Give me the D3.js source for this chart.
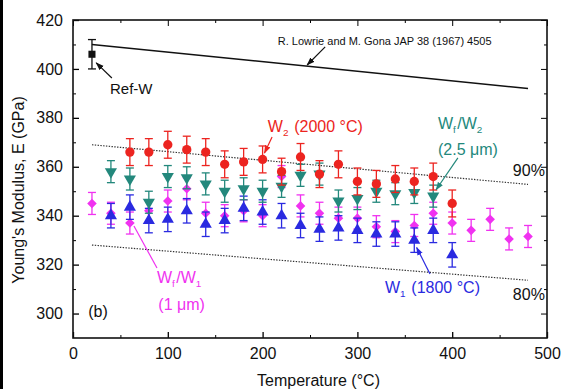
<!DOCTYPE html>
<html>
<head>
<meta charset="utf-8">
<script src="https://cdn.jsdelivr.net/npm/d3@7"></script>
<style>
body { margin: 0; background: #fff; }
text { font-family: "Liberation Sans", Arial, sans-serif; }
</style>
</head>
<body>
<div id="chart"></div>
<script>
// values (GPa vs degC)
const w2Temps = [60, 80, 100, 120, 140, 160, 180, 200, 220, 240, 260, 280, 300, 320, 340, 360, 380, 400];
const w2Values = [366, 366, 369, 367, 366, 361, 362, 363, 358, 364, 357, 361, 354, 353, 355, 354, 356, 345];

const wfw2Temps = [40, 60, 80, 100, 120, 140, 160, 180, 200, 220, 240, 260, 280, 300, 320, 340, 360, 380];
const wfw2Values = [358, 355, 345.5, 356, 355.5, 353, 350, 351, 350, 352, 356.5, 357, 346, 347, 350, 349, 349.5, 348];

const wfw1Temps = [20, 40, 60, 80, 100, 120, 140, 160, 180, 200, 220, 240, 260, 280, 300, 320, 340, 360, 380, 400, 420, 440, 460, 480];
const wfw1Values = [345, 341, 337, 342, 346, 351, 341, 340, 342, 340, 356, 344, 341, 339, 339, 335.5, 333.5, 336, 341, 337, 334, 338.5, 330.5, 331.5];

const w1Temps = [40, 60, 80, 100, 120, 140, 160, 180, 200, 220, 240, 260, 280, 300, 320, 340, 360, 380, 400];
const w1Values = [340, 343.5, 338, 338.5, 342, 336.5, 338, 343, 341.5, 340, 336, 334.5, 335, 334, 332.5, 332.5, 330, 334, 324];

const errW2 = 5.5, errWfW2 = 4.5, errWfW1 = 4.5, errW1 = 5;

const refTemps = [20];
const refValues = [406];
const refErr = 6;

// Lowrie & Gona line and its 90% / 80% lines (end points)
const lowrieTemps = [20, 480];
const lowrieValues = [410, 392];
const pct90Values = [369, 352.8];
const pct80Values = [328, 313.6];

const xTicks = [0, 100, 200, 300, 400, 500];
const yTicks = [300, 320, 340, 360, 380, 400, 420];

const W = 568, H = 389;
const margin = { top: 20, right: 21, bottom: 51, left: 73 };
const width = W - margin.left - margin.right;
const height = H - margin.top - margin.bottom;

const svg = d3.select("#chart").append("svg")
    .attr("width", W)
    .attr("height", H);

// outer frame line on the left edge of the picture
svg.append("line")
    .attr("x1", 1.5).attr("x2", 1.5).attr("y1", 0).attr("y2", H)
    .attr("stroke", "#000").attr("stroke-width", 3);

const g = svg.append("g")
    .attr("transform", `translate(${margin.left},${margin.top})`);

const x = d3.scaleLinear().domain([0, 500]).range([0, width]);
const y = d3.scaleLinear().domain([290, 420]).range([height, 0]);

// axes, ticks inward
const xMinor = d3.range(50, 500, 100);
const yMinor = d3.range(310, 420, 20);

g.append("g")
    .attr("transform", `translate(0,${height})`)
    .call(d3.axisBottom(x).tickValues(xTicks).tickSize(-6).tickPadding(10).tickFormat(d3.format("d")))
    .call(a => a.select(".domain").remove())
    .call(a => a.selectAll("text").attr("font-size", 16).attr("fill", "#111").attr("dy", "0.71em"))
    .call(a => a.selectAll(".tick line").attr("stroke-width", 1.3));
g.append("g")
    .attr("transform", `translate(0,${height})`)
    .call(d3.axisBottom(x).tickValues(xMinor).tickSize(-3).tickFormat(""))
    .call(a => a.select(".domain").remove());
g.append("g")
    .call(d3.axisTop(x).tickValues(xTicks).tickSize(-6).tickFormat(""))
    .call(a => a.select(".domain").remove());
g.append("g")
    .call(d3.axisTop(x).tickValues(xMinor).tickSize(-3).tickFormat(""))
    .call(a => a.select(".domain").remove());

g.append("g")
    .call(d3.axisLeft(y).tickValues(yTicks).tickSize(-6).tickPadding(10))
    .call(a => a.select(".domain").remove())
    .call(a => a.selectAll("text").attr("font-size", 16).attr("fill", "#111"))
    .call(a => a.selectAll(".tick line").attr("stroke-width", 1.3));
g.append("g")
    .call(d3.axisLeft(y).tickValues(yMinor).tickSize(-3).tickFormat(""))
    .call(a => a.select(".domain").remove());
g.append("g")
    .attr("transform", `translate(${width},0)`)
    .call(d3.axisRight(y).tickValues(yTicks).tickSize(-6).tickFormat(""))
    .call(a => a.select(".domain").remove());
g.append("g")
    .attr("transform", `translate(${width},0)`)
    .call(d3.axisRight(y).tickValues(yMinor).tickSize(-3).tickFormat(""))
    .call(a => a.select(".domain").remove());

g.append("rect")
    .attr("width", width).attr("height", height)
    .attr("fill", "none").attr("stroke", "#111").attr("stroke-width", 1.6);

// axis titles
svg.append("text")
    .attr("x", margin.left + x(259)).attr("y", 386)
    .attr("text-anchor", "middle").attr("font-size", 16).attr("fill", "#111")
    .text("Temperature (\u00B0C)");
svg.append("text")
    .attr("transform", `translate(24,${margin.top + y(350.5)}) rotate(-90)`)
    .attr("text-anchor", "middle").attr("font-size", 16).attr("fill", "#111")
    .text("Young's Modulus, E (GPa)");

// reference lines
const lineGen = d3.line().x(d => x(d[0])).y(d => y(d[1]));
g.append("path")
    .attr("d", lineGen(d3.zip(lowrieTemps, lowrieValues)))
    .attr("stroke", "#111").attr("stroke-width", 1.5).attr("fill", "none");
[pct90Values, pct80Values].forEach(v => {
    g.append("path")
        .attr("d", lineGen(d3.zip(lowrieTemps, v)))
        .attr("stroke", "#333").attr("stroke-width", 1.2)
        .attr("stroke-dasharray", "1.4,1.4").attr("fill", "none");
});

// series
const series = [
    { temps: wfw1Temps, values: wfw1Values, err: errWfW1, color: "#f032f0", shape: "diamond" },
    { temps: w1Temps, values: w1Values, err: errW1, color: "#2a2ae0", shape: "up" },
    { temps: wfw2Temps, values: wfw2Values, err: errWfW2, color: "#23887c", shape: "down" },
    { temps: w2Temps, values: w2Values, err: errW2, color: "#ec2420", shape: "circle" },
    { temps: refTemps, values: refValues, err: refErr, color: "#111", shape: "square" }
];

const symbols = {
    diamond: { type: d3.symbolSquare, size: 46, rot: 45 },
    up: { type: d3.symbolTriangle, size: 64, rot: 0 },
    down: { type: d3.symbolTriangle, size: 64, rot: 180 },
    circle: { type: d3.symbolCircle, size: 68, rot: 0 },
    square: { type: d3.symbolSquare, size: 50, rot: 0 }
};

series.forEach(s => {
    const data = d3.zip(s.temps, s.values);
    const sg = g.append("g");
    const eb = sg.selectAll(".eb").data(data).enter().append("g")
        .attr("stroke", s.color).attr("stroke-width", 1.3);
    eb.append("line")
        .attr("x1", d => x(d[0])).attr("x2", d => x(d[0]))
        .attr("y1", d => y(d[1] - s.err)).attr("y2", d => y(d[1] + s.err));
    eb.append("line")
        .attr("x1", d => x(d[0]) - 4).attr("x2", d => x(d[0]) + 4)
        .attr("y1", d => y(d[1] + s.err)).attr("y2", d => y(d[1] + s.err));
    eb.append("line")
        .attr("x1", d => x(d[0]) - 4).attr("x2", d => x(d[0]) + 4)
        .attr("y1", d => y(d[1] - s.err)).attr("y2", d => y(d[1] - s.err));
    const sym = symbols[s.shape];
    sg.selectAll(".pt").data(data).enter().append("path")
        .attr("d", d3.symbol().type(sym.type).size(sym.size))
        .attr("transform", d => `translate(${x(d[0])},${y(d[1])}) rotate(${sym.rot})`)
        .attr("fill", s.color);
});

// annotations
const defs = svg.append("defs");
function arrowHead(id, color) {
    defs.append("marker")
        .attr("id", id).attr("viewBox", "0 0 10 10")
        .attr("refX", 9).attr("refY", 5)
        .attr("markerWidth", 7).attr("markerHeight", 7)
        .attr("orient", "auto-start-reverse")
        .append("path").attr("d", "M0,1.5L10,5L0,8.5Z").attr("fill", color);
}
arrowHead("ah-black", "#111");
arrowHead("ah-red", "#ec2420");
arrowHead("ah-teal", "#23887c");
arrowHead("ah-blue", "#2a2ae0");

function arrow(t1, v1, t2, v2, color, head) {
    const l = g.append("line")
        .attr("x1", x(t1)).attr("y1", y(v1))
        .attr("x2", x(t2)).attr("y2", y(v2))
        .attr("stroke", color).attr("stroke-width", 1.2);
    if (head) l.attr("marker-end", `url(#${head})`);
}

function label(t, v, parts, color, size) {
    const tx = g.append("text")
        .attr("x", x(t)).attr("y", y(v))
        .attr("font-size", size).attr("fill", color);
    parts.forEach(p => {
        if (p.sub) {
            tx.append("tspan").attr("font-size", size * 0.62).attr("dy", 4).text(p.sub);
            tx.append("tspan").attr("dy", -4).text("\u200A");
        } else {
            tx.append("tspan").text(p.t);
        }
    });
}

label(216, 409.6, [{ t: "R. Lowrie and M. Gona JAP 38 (1967) 4505" }], "#111", 11);
arrow(266, 409, 247, 401.6, "#111", "ah-black");

label(39, 389.7, [{ t: "Ref-W" }], "#111", 15);
arrow(41, 396.3, 24.5, 402.5, "#111", "ah-black");

label(205.5, 374.3, [{ t: "W" }, { sub: "2" }, { t: " (2000 \u00B0C)" }], "#ec2420", 16);
arrow(210, 372.2, 202, 365.6, "#ec2420", "ah-red");

label(385, 375.4, [{ t: "W" }, { sub: "f" }, { t: "/W" }, { sub: "2" }], "#23887c", 16);
label(385, 364.8, [{ t: "(2.5 \u03BCm)" }], "#23887c", 16);
arrow(406, 363.6, 383, 350.6, "#23887c", "ah-teal");

label(464, 356.2, [{ t: "90%" }], "#111", 16);
label(464, 305.5, [{ t: "80%" }], "#111", 16);

label(329, 308.4, [{ t: "W" }, { sub: "1" }, { t: " (1800 \u00B0C)" }], "#2a2ae0", 16);
arrow(376.6, 316.2, 362.5, 327, "#2a2ae0", "ah-blue");

label(88.6, 312.5, [{ t: "W" }, { sub: "f" }, { t: "/W" }, { sub: "1" }], "#f032f0", 16);
label(90, 301.5, [{ t: "(1 \u03BCm)" }], "#f032f0", 16);
arrow(88.6, 318.6, 64.3, 335.8, "#f032f0", null);

label(16, 298.5, [{ t: "(b)" }], "#111", 16);
</script>
</body>
</html>
